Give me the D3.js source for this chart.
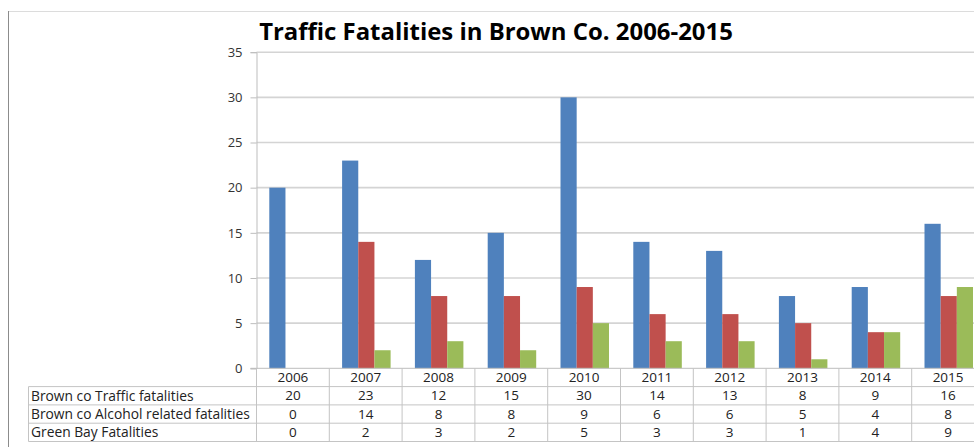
<!DOCTYPE html>
<html><head><meta charset="utf-8">
<script src="https://cdn.jsdelivr.net/npm/d3@7"></script>
<style>body{margin:0;background:#fff}svg{display:block}</style>
</head><body>
<svg id="c" width="974" height="447"></svg>
<script>
const years = ["2006","2007","2008","2009","2010","2011","2012","2013","2014","2015"];
const seriesNames = ["Brown co Traffic fatalities","Brown co Alcohol related fatalities","Green Bay Fatalities"];
const traffic = [20,23,12,15,30,14,13,8,9,16];
const alcohol = [0,14,8,8,9,6,6,5,4,8];
const greenBay = [0,2,3,2,5,3,3,1,4,9];
const yTicks = [0,5,10,15,20,25,30,35];
const colors = ["#4f81bd","#c0504d","#9bbb59"];
const titleText = "Traffic Fatalities in Brown Co. 2006-2015";

const series = [traffic, alcohol, greenBay];
const W = 974, H = 447;
const svg = d3.select("#c");
const font = "'Open Sans', sans-serif";

const plotL = 256.5, step = 72.8;
const x = d3.scaleBand().domain(years).range([plotL, plotL + step*years.length]).padding(0);
const xs = d3.scaleBand().domain(d3.range(3)).range([12.8, 12.8+48.5]).padding(0);
const y = d3.scaleLinear().domain([0,35]).range([368.3, 52.2]);

// frame
svg.append("line").attr("x1",8).attr("x2",W).attr("y1",11.5).attr("y2",11.5).attr("stroke","#dcdcdc").attr("stroke-width",1);
svg.append("line").attr("x1",8.5).attr("x2",8.5).attr("y1",11).attr("y2",H).attr("stroke","#8c8c8c").attr("stroke-width",1);

// gridlines
svg.append("g").selectAll("line").data(yTicks.filter(d=>d>0)).join("line")
  .attr("x1",plotL).attr("x2",W).attr("y1",d=>y(d)).attr("y2",d=>y(d))
  .attr("stroke","#d4d4d4").attr("stroke-width",1.6);

// y axis
const yAxis = d3.axisLeft(y).tickValues(yTicks).tickSize(6).tickPadding(8).tickFormat(d3.format("d"));
const gy = svg.append("g").attr("transform",`translate(${plotL},0)`).call(yAxis);
gy.select(".domain").attr("stroke","#bdbdbd");
gy.selectAll(".tick line").attr("stroke","#bdbdbd");
gy.selectAll(".tick text").attr("font-family",font).attr("font-size",13).attr("fill","#333");

// bars
const g = svg.append("g");
series.forEach((vals, si) => {
  g.selectAll(null).data(vals.map((v,i)=>({v, yr: years[i]}))).join("rect")
    .attr("x", d => x(d.yr) + xs(si))
    .attr("width", xs.bandwidth())
    .attr("y", d => y(d.v))
    .attr("height", d => y(0) - y(d.v))
    .attr("fill", colors[si]);
});

// x axis line
svg.append("line").attr("x1",plotL-6).attr("x2",W).attr("y1",y(0)).attr("y2",y(0)).attr("stroke","#bdbdbd");

// data table
const rowTop = 368.3, rowH = 18.3, tableL = 28.5;
const lineC = "#c4c4c4";
const tg = svg.append("g");
for (let r = 1; r <= 4; r++) {
  tg.append("line").attr("x1", tableL).attr("x2", W).attr("y1", rowTop + r*rowH).attr("y2", rowTop + r*rowH).attr("stroke", lineC);
}
tg.append("line").attr("x1", tableL).attr("x2", tableL).attr("y1", rowTop+rowH).attr("y2", rowTop+4*rowH).attr("stroke", lineC);
const bounds = years.map(yr => x(yr)).concat([x(years[years.length-1]) + x.bandwidth()]);
tg.selectAll("line.v").data(bounds).join("line").attr("class","v")
  .attr("x1",d=>d).attr("x2",d=>d).attr("y1",rowTop).attr("y2",rowTop+4*rowH).attr("stroke",lineC);
tg.selectAll("text.yr").data(years).join("text").attr("class","yr")
  .attr("x", d => x(d) + x.bandwidth()/2).attr("y", rowTop + rowH/2)
  .attr("dy","0.35em").attr("text-anchor","middle")
  .attr("font-family",font).attr("font-size",13.5).attr("fill","#222").text(d=>d);
const labels = [];
series.forEach((vals, si) => {
  const cy = rowTop + (si+1)*rowH + rowH/2;
  labels.push(tg.append("text").attr("x", 31).attr("y", cy).attr("dy","0.35em")
    .attr("font-family",font).attr("font-size",13).attr("fill","#222").text(seriesNames[si]));
  tg.selectAll(null).data(vals).join("text")
    .attr("x", (d,i) => x(years[i]) + x.bandwidth()/2).attr("y", cy).attr("dy","0.35em")
    .attr("text-anchor","middle").attr("font-family",font).attr("font-size",13.5).attr("fill","#222").text(d=>d);
});
const lw = labels[1].node().getComputedTextLength();
const lfs = 13 * 219 / lw;
labels.forEach(l => l.attr("font-size", lfs));

// title
const title = svg.append("text").attr("x", 496).attr("y", 40).attr("text-anchor","middle")
  .attr("font-family",font).attr("font-weight","bold").attr("font-size",22).attr("fill","#000").text(titleText);
const tw = title.node().getComputedTextLength();
title.attr("font-size", 22 * 474 / tw);
</script>
</body></html>
